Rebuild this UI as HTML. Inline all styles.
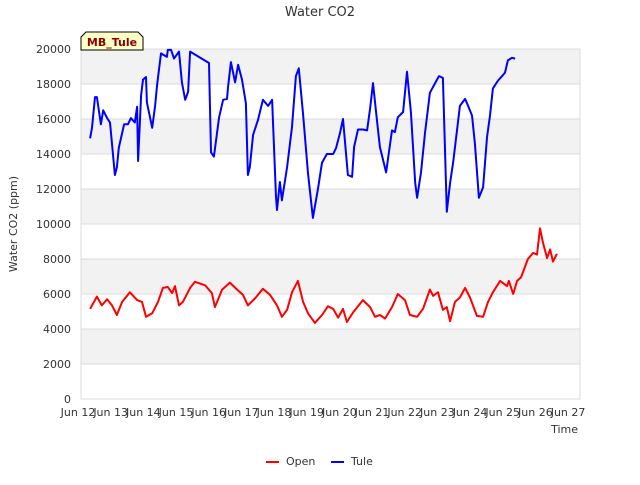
<!DOCTYPE html>
<html><head><meta charset="utf-8">
<style>
body{margin:0;background:#fff;font-family:"Liberation Sans","DejaVu Sans",sans-serif;}
svg text{font-family:"DejaVu Sans","Liberation Sans",sans-serif;}
</style></head>
<body>
<svg id="chart" width="640" height="480">
<g id="bands"></g><g id="grid"></g><g id="axes"></g><g id="series"></g>
<text x="320" y="16" text-anchor="middle" font-size="13" fill="#333">Water CO2</text>
<text x="17" y="224" text-anchor="middle" font-size="11" fill="#333" transform="rotate(-90 17 224)">Water CO2 (ppm)</text>
<text x="578" y="433" text-anchor="end" font-size="11" fill="#333">Time</text>
<g>
<path d="M81,50 L81,37 L86,32 L138,32 L143,37 L143,50 Z" fill="#ffffc8" stroke="#000" stroke-width="1"/>
<text x="112" y="46" text-anchor="middle" font-size="11" font-weight="bold" fill="#8b0000">MB_Tule</text>
</g>
<g>
<g><line x1="266" y1="462" x2="279" y2="462" stroke="#f00" stroke-width="2"/><text x="286" y="465" font-size="11" fill="#333">Open</text></g>
<g><line x1="331" y1="462" x2="344" y2="462" stroke="#00f" stroke-width="2"/><text x="351" y="465" font-size="11" fill="#333">Tule</text></g>
</g>
</svg>
<script>
const yTicks=[0,2000,4000,6000,8000,10000,12000,14000,16000,18000,20000];
const xTickDays=[12,13,14,15,16,17,18,19,20,21,22,23,24,25,26,27];
const xTickLabels=["Jun 12","Jun 13","Jun 14","Jun 15","Jun 16","Jun 17","Jun 18","Jun 19","Jun 20","Jun 21","Jun 22","Jun 23","Jun 24","Jun 25","Jun 26","Jun 27"];
const tuleDays=[12.37,12.43,12.52,12.58,12.70,12.77,12.89,12.98,13.13,13.19,13.25,13.41,13.53,13.62,13.74,13.81,13.84,13.93,13.99,14.08,14.11,14.27,14.36,14.42,14.54,14.72,14.75,14.85,14.94,15.09,15.18,15.28,15.37,15.43,16.01,16.07,16.16,16.32,16.44,16.56,16.59,16.68,16.81,16.90,17.02,17.14,17.20,17.26,17.36,17.51,17.66,17.82,17.94,18.06,18.09,18.18,18.24,18.40,18.55,18.67,18.76,18.89,19.04,19.19,19.35,19.47,19.62,19.81,19.90,20.02,20.11,20.26,20.39,20.45,20.57,20.72,20.85,20.94,21.03,21.15,21.24,21.43,21.61,21.70,21.79,21.95,22.07,22.19,22.32,22.38,22.50,22.62,22.77,22.93,23.05,23.17,23.29,23.39,23.48,23.60,23.69,23.85,23.94,24.06,24.15,24.27,24.40,24.52,24.61,24.70,24.86,24.98,25.07,25.16,25.28,25.38];
const tuleValues=[14900,15500,17250,17250,15700,16500,16050,15800,12800,13250,14350,15700,15700,16050,15800,16700,13600,17350,18250,18400,16950,15500,16750,17950,19750,19550,19950,19950,19450,19850,18100,17100,17550,19850,19200,14100,13850,16100,17100,17150,17800,19250,18100,19100,18250,16900,12800,13250,15100,15950,17100,16750,17100,11550,10800,12400,11350,13250,15550,18450,18900,16250,12900,10350,12050,13500,14000,14000,14350,15200,16000,12800,12700,14400,15400,15400,15350,16600,18050,15950,14400,12950,15350,15250,16100,16400,18700,16400,12350,11500,12950,15200,17500,18050,18450,18350,10700,12350,13500,15350,16750,17150,16750,16200,14600,11500,12100,14950,16200,17750,18200,18450,18650,19350,19500,19450];
const openDays=[12.37,12.58,12.73,12.89,13.04,13.19,13.35,13.59,13.81,13.96,14.08,14.27,14.45,14.60,14.75,14.88,14.97,15.09,15.21,15.43,15.58,15.89,16.10,16.19,16.41,16.65,16.87,17.05,17.20,17.42,17.66,17.88,18.09,18.24,18.40,18.55,18.73,18.89,19.04,19.25,19.47,19.65,19.81,19.96,20.11,20.23,20.42,20.72,20.94,21.09,21.24,21.40,21.61,21.79,22.01,22.16,22.38,22.56,22.77,22.87,23.02,23.17,23.29,23.39,23.54,23.69,23.85,24.00,24.21,24.40,24.55,24.70,24.92,25.13,25.19,25.32,25.44,25.56,25.62,25.77,25.93,26.05,26.14,26.23,26.36,26.45,26.54,26.66];
const openValues=[5150,5850,5350,5700,5350,4800,5550,6100,5650,5550,4700,4900,5550,6350,6400,6050,6450,5350,5550,6350,6700,6500,6050,5250,6250,6650,6250,5950,5350,5750,6300,5950,5350,4700,5100,6100,6750,5550,4900,4350,4800,5300,5150,4650,5150,4400,4950,5650,5250,4700,4800,4600,5250,6000,5650,4800,4700,5150,6250,5900,6100,5100,5250,4450,5550,5800,6350,5800,4750,4700,5550,6100,6750,6450,6750,6000,6750,6950,7250,8000,8350,8250,9750,8950,8050,8550,7850,8300];

const svg=document.getElementById('chart');
const NS='http://www.w3.org/2000/svg';
const L=81,R=580,T=49,B=399;
function X(d){return 78+(d-12)*32.67;}
function Y(v){return B-(v/20000)*(B-T);}
function mk(tag,attrs,parent){const e=document.createElementNS(NS,tag);for(const k in attrs)e.setAttribute(k,attrs[k]);parent.appendChild(e);return e;}
const bands=document.getElementById('bands'),grid=document.getElementById('grid'),axes=document.getElementById('axes'),series=document.getElementById('series');
for(let i=0;i<yTicks.length-1;i++){
  if(i%2===1){
    const r=mk('rect',{x:L,y:Y(yTicks[i+1]),width:R-L,height:Y(yTicks[i])-Y(yTicks[i+1]),fill:'#f2f2f2'},bands);
    
    
  }
}
yTicks.forEach(v=>{
  const g=mk('line',{x1:L,x2:R,y1:Y(v),y2:Y(v),stroke:'#dcdcdc','stroke-width':1},grid);
  
  
  const t=mk('text',{x:L-10,y:Y(v)+4,'text-anchor':'end','font-size':11,fill:'#333'},axes);
  t.textContent=v;
  
  
});
const fr=mk('rect',{x:L,y:T,width:R-L,height:B-T,fill:'none',stroke:'#dcdcdc'},axes);


xTickDays.forEach((d,i)=>{
  const t=mk('text',{x:X(d),y:416,'text-anchor':'middle','font-size':11,fill:'#333'},axes);
  t.textContent=xTickLabels[i];
  
  
});
function line(days,vals,color,name){
  const p=days.map((d,i)=>(i?'L':'M')+X(d).toFixed(1)+','+Y(vals[i]).toFixed(1)).join(' ');
  const e=mk('path',{d:p,fill:'none',stroke:color,'stroke-width':2,'stroke-linejoin':'round'},series);
  
  
}
line(openDays,openValues,'#ff0000','open-series-line');
line(tuleDays,tuleValues,'#0000ff','tule-series-line');
</script>
</body></html>
